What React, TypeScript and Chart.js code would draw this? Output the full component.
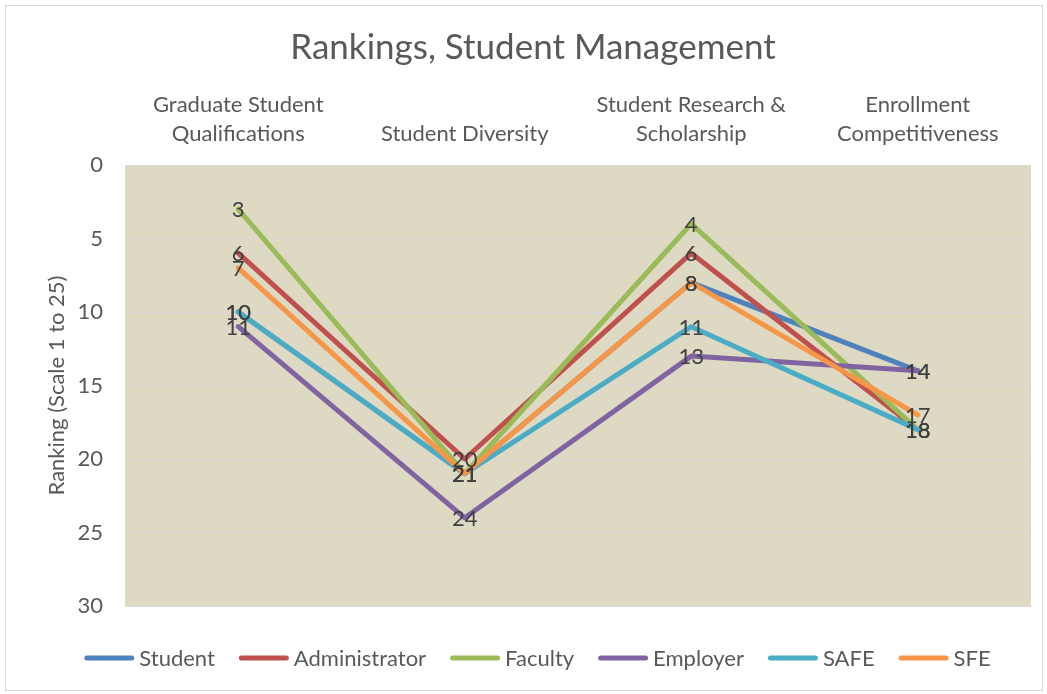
import React, { useEffect, useRef } from "react";
import { Chart, registerables } from "chart.js";

Chart.register(...registerables);

const categories: string[][] = [
  ["Graduate Student", "Qualifications"],
  ["Student Diversity"],
  ["Student Research &", "Scholarship"],
  ["Enrollment", "Competitiveness"],
];

const seriesNames = ["Student", "Administrator", "Faculty", "Employer", "SAFE", "SFE"];
const student = [10, 21, 8, 14];
const administrator = [6, 20, 6, 18];
const faculty = [3, 21, 4, 18];
const employer = [11, 24, 13, 14];
const safe = [10, 21, 11, 18];
const sfe = [7, 21, 8, 17];
const seriesColors = ["#4F81BD", "#C0504D", "#9BBB59", "#8064A2", "#4BACC6", "#F79646"];
const yTicks = [0, 5, 10, 15, 20, 25, 30];

const FONT = "Lato, 'Open Sans', sans-serif";
const TEXT = "#595959";
const FS = 22;

const bgPlugin = {
  id: "plotBg",
  beforeDraw(chart: any) {
    const { ctx, chartArea } = chart;
    ctx.save();
    ctx.fillStyle = "#DDD9C3";
    ctx.fillRect(chartArea.left, chartArea.top, chartArea.right - chartArea.left, chartArea.bottom - chartArea.top);
    ctx.restore();
  },
};

const titlePlugin = {
  id: "customTitle",
  afterDraw(chart: any) {
    const { ctx } = chart;
    ctx.save();
    ctx.font = `35px ${FONT}`;
    ctx.fillStyle = TEXT;
    ctx.textAlign = "center";
    ctx.textBaseline = "middle";
    ctx.fillText("Rankings, Student Management", 533, 48);
    ctx.restore();
  },
};

const legendPlugin = {
  id: "customLegend",
  afterDraw(chart: any) {
    const { ctx } = chart;
    ctx.save();
    ctx.font = `${FS}px ${FONT}`;
    const lineW = 50;
    const gapText = 5;
    const gapItem = 24;
    const widths = seriesNames.map((n) => ctx.measureText(n).width);
    const total = widths.reduce((a, w) => a + lineW + gapText + w, 0) + gapItem * (seriesNames.length - 1);
    let x = 537.5 - total / 2;
    const y = 658;
    seriesNames.forEach((n, i) => {
      ctx.strokeStyle = seriesColors[i];
      ctx.lineWidth = 5;
      ctx.lineCap = "round";
      ctx.beginPath();
      ctx.moveTo(x + 2.5, y);
      ctx.lineTo(x + lineW - 2.5, y);
      ctx.stroke();
      ctx.fillStyle = TEXT;
      ctx.textAlign = "left";
      ctx.textBaseline = "middle";
      ctx.fillText(n, x + lineW + gapText, y + 1);
      x += lineW + gapText + widths[i] + gapItem;
    });
    ctx.restore();
  },
};

const labelPlugin = {
  id: "dataLabels",
  afterDatasetsDraw(chart: any) {
    const { ctx } = chart;
    ctx.save();
    ctx.font = `${FS}px ${FONT}`;
    ctx.fillStyle = "#404040";
    ctx.textAlign = "center";
    ctx.textBaseline = "middle";
    chart.data.datasets.forEach((ds: any, di: number) => {
      const meta = chart.getDatasetMeta(di);
      meta.data.forEach((pt: any, i: number) => {
        ctx.fillText(String(ds.data[i]), pt.x, pt.y + 1);
      });
    });
    ctx.restore();
  },
};

export default function App() {
  const ref = useRef<HTMLCanvasElement | null>(null);
  useEffect(() => {
    document.body.style.margin = "0";
    const allData = [student, administrator, faculty, employer, safe, sfe];
    const chart = new Chart(ref.current!, {
      type: "line",
      data: {
        labels: categories,
        datasets: seriesNames.map((name, i) => ({
          label: name,
          data: allData[i],
          borderColor: seriesColors[i],
          backgroundColor: seriesColors[i],
          borderWidth: 5,
          pointRadius: 0,
          tension: 0,
          borderJoinStyle: "round" as const,
          borderCapStyle: "round" as const,
          order: 5 - i,
        })),
      },
      options: {
        animation: false,
        responsive: false,
        maintainAspectRatio: false,
        layout: { padding: { left: 20, right: 16, top: 0, bottom: 88 } },
        plugins: {
          title: { display: false },
          tooltip: { enabled: false },
          legend: { display: false },
        },
        scales: {
          x: {
            position: "top",
            offset: true,
            grid: { display: false },
            border: { display: false },
            ticks: {
              color: TEXT,
              font: { size: FS, family: FONT, lineHeight: 1.32 },
              padding: 9,
              maxRotation: 0,
              autoSkip: false,
            },
            afterFit: (scale: any) => {
              scale.height = 165;
            },
          },
          y: {
            reverse: true,
            min: 0,
            max: 30,
            afterBuildTicks: (scale: any) => {
              scale.ticks = yTicks.map((v) => ({ value: v }));
            },
            grid: { color: "#D9D9D9", lineWidth: 1, drawTicks: false },
            border: { display: false },
            ticks: {
              color: TEXT,
              font: { size: FS, family: FONT },
              padding: 22,
            },
            title: {
              display: true,
              text: "Ranking (Scale 1 to 25)",
              color: TEXT,
              font: { size: FS, family: FONT },
              padding: { top: 24, bottom: 0 },
            },
            afterFit: (scale: any) => {
              scale.width = 105;
            },
          },
        },
      },
      plugins: [bgPlugin, titlePlugin, labelPlugin, legendPlugin],
    });
    return () => chart.destroy();
  }, []);

  return (
    <div style={{ position: "relative", width: 1047, height: 694, background: "#fff" }}>
      <div
        style={{
          position: "absolute",
          left: 5,
          top: 5,
          width: 1036,
          height: 684,
          border: "1px solid #D9D9D9",
          boxSizing: "content-box",
        }}
      />
      <canvas ref={ref} width={1047} height={694} style={{ position: "absolute", left: 0, top: 0 }} />
    </div>
  );
}
